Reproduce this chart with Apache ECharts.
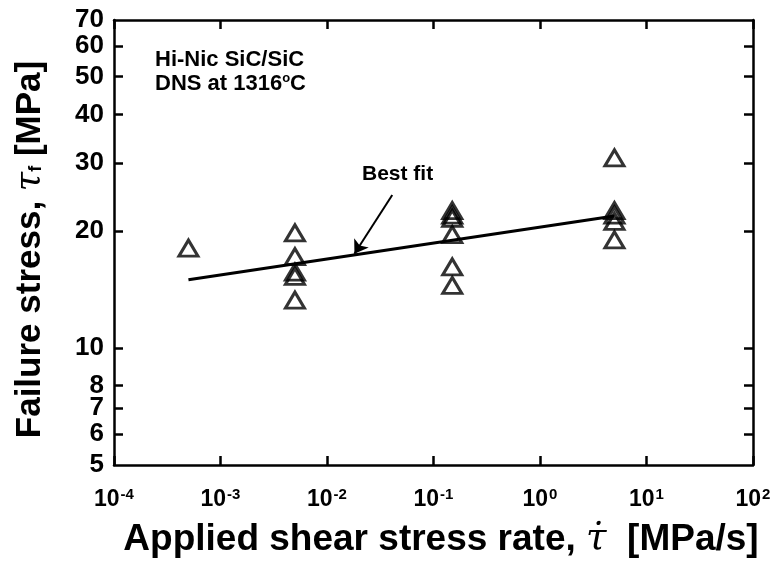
<!DOCTYPE html>
<html>
<head>
<meta charset="utf-8">
<script src="https://cdn.jsdelivr.net/npm/echarts@6/dist/echarts.min.js"></script>
<style>html,body{margin:0;padding:0;background:#fff}#c{width:775px;height:564px}</style>
</head>
<body>
<div id="c"></div>
<script>
// Data
var rates = [5e-4, 5e-3, 5e-3, 5e-3, 5e-3, 5e-3, 0.15, 0.15, 0.15, 0.15, 0.15, 0.15, 5, 5, 5, 5, 5];
var stresses = [18.1, 19.8, 17.2, 15.7, 15.3, 13.3, 22.6, 22.0, 21.6, 19.6, 16.2, 14.5, 30.9, 22.6, 22.0, 21.2, 19.0];
var fitRates = [5e-4, 5];
var fitStress = [15.0, 21.9];
var arrowFrom = [0.041, 24.8];
var arrowTo = [0.0181, 17.5];
var xTicks = [1e-4, 1e-3, 1e-2, 1e-1, 1, 10, 100];
var yLabels = [5, 6, 7, 8, 10, 20, 30, 40, 50, 60, 70];
var yTicks = [6, 7, 8, 10, 20, 30, 40, 50, 60];

var FONT = '"Liberation Sans", Arial, Helvetica, sans-serif';
var INK = '#000';
var chart = echarts.init(document.getElementById('c'), null, {renderer: 'canvas'});

function pts(xs, ys) { return xs.map(function (x, i) { return [x, ys[i]]; }); }

var axisLine = {show: true, lineStyle: {color: INK, width: 2.5}};
var tick = {show: true, inside: true, length: 9, lineStyle: {color: INK, width: 2.5}};

var option = {
  backgroundColor: '#fff',
  animation: false,
  grid: {left: 114, right: 22, top: 20, bottom: 99},
  xAxis: [{
    type: 'log', min: 1e-4, max: 100, position: 'bottom',
    axisLine: axisLine,
    axisTick: Object.assign({customValues: xTicks}, tick),
    minorTick: {show: false}, splitLine: {show: false},
    axisLabel: {
      customValues: xTicks, margin: 22,
      formatter: function (v) {
        var e = Math.round(Math.log10(v));
        return '{b|10}{s|' + (e < 0 ? '-' + (-e) : e) + '}';
      },
      rich: {
        b: {fontFamily: FONT, fontWeight: 'bold', fontSize: 23, color: INK},
        s: {fontFamily: FONT, fontWeight: 'bold', fontSize: 15, color: INK, padding: [0, 0, 11, 1]}
      }
    },
    name: '{a|Applied shear stress rate, }{t|τ̇}{a|  [MPa/s]}',
    nameLocation: 'middle', nameGap: 56,
    nameTextStyle: {
      padding: [0, 0, 0, 15],
      rich: {
        a: {fontFamily: FONT, fontWeight: 'bold', fontSize: 37, color: INK},
        t: {fontFamily: '"DejaVu Serif", serif', fontStyle: 'italic', fontSize: 37, color: INK}
      }
    }
  }, {
    type: 'log', min: 1e-4, max: 100, position: 'top',
    axisLine: axisLine,
    axisTick: Object.assign({customValues: xTicks}, tick),
    axisLabel: {show: false}, splitLine: {show: false}, minorTick: {show: false}
  }],
  yAxis: [{
    type: 'log', min: 5, max: 70, position: 'left',
    axisLine: axisLine,
    axisTick: Object.assign({customValues: yTicks}, tick),
    minorTick: {show: false}, splitLine: {show: false},
    axisLabel: {
      customValues: yLabels, margin: 10,
      fontFamily: FONT, fontWeight: 'bold', fontSize: 26, color: INK,
      formatter: function (v) { return String(Math.round(v)); }
    },
    name: '{a|Failure stress, }{t|τ}{sub|f}{a| [MPa]}',
    nameLocation: 'middle', nameGap: 66, nameRotate: 90,
    nameTextStyle: {
      padding: [0, 14, 0, 0],
      rich: {
        a: {fontFamily: FONT, fontWeight: 'bold', fontSize: 35, color: INK},
        t: {fontFamily: '"DejaVu Serif", serif', fontStyle: 'italic', fontSize: 35, color: INK},
        sub: {fontFamily: FONT, fontWeight: 'bold', fontSize: 18, color: INK, padding: [12, 0, 0, 0]}
      }
    }
  }, {
    type: 'log', min: 5, max: 70, position: 'right',
    axisLine: axisLine,
    axisTick: Object.assign({customValues: yTicks}, tick),
    axisLabel: {show: false}, splitLine: {show: false}, minorTick: {show: false}
  }],
  series: [{
    type: 'line',
    data: pts(fitRates, fitStress),
    symbol: 'none',
    lineStyle: {color: INK, width: 3},
    markLine: {
      silent: true, symbol: ['none', 'arrow'], symbolSize: 13,
      label: {show: false},
      lineStyle: {color: INK, width: 2, type: 'solid'},
      data: [[{coord: arrowFrom}, {coord: arrowTo}]]
    }
  }, {
    type: 'scatter',
    data: pts(rates, stresses),
    symbol: 'triangle', symbolSize: [19, 16],
    itemStyle: {color: 'rgba(255,255,255,0)', borderColor: INK, borderWidth: 3},
    z: 5
  }],
  graphic: [{
    type: 'text', left: 155, top: 49,
    style: {text: 'Hi-Nic SiC/SiC', font: 'bold 22px ' + FONT, fill: INK}
  }, {
    type: 'text', left: 155, top: 72,
    style: {
      text: '{a|DNS at 1316}{s|o}{a|C}',
      rich: {
        a: {font: 'bold 22px ' + FONT, fill: INK},
        s: {font: 'bold 13px ' + FONT, fill: INK, padding: [0, 0, 11, 0]}
      }
    }
  }, {
    type: 'text', left: 362, top: 164,
    style: {text: 'Best fit', font: 'bold 21px ' + FONT, fill: INK}
  }]
};
chart.setOption(option);
</script>
</body>
</html>
